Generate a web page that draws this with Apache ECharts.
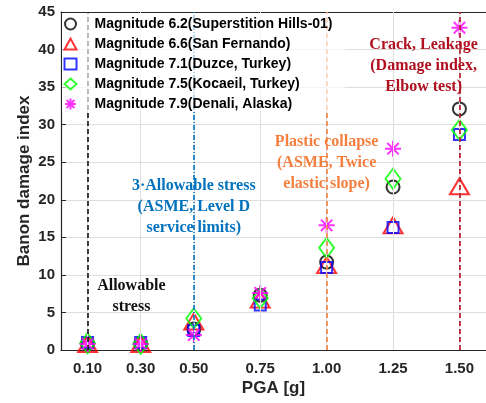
<!DOCTYPE html>
<html><head><meta charset="utf-8">
<script src="https://cdn.jsdelivr.net/npm/echarts@6/dist/echarts.min.js"></script>
<style>html,body{margin:0;padding:0;background:#fff}#c{width:486px;height:403px}</style>
</head><body><div id="c"></div>
<script>
const pga = [0.10, 0.30, 0.50, 0.75, 1.00, 1.25, 1.50];
const yTicks = [0, 5, 10, 15, 20, 25, 30, 35, 40, 45];
const names = [
  'Magnitude 6.2(Superstition Hills-01)',
  'Magnitude 6.6(San Fernando)',
  'Magnitude 7.1(Duzce, Turkey)',
  'Magnitude 7.5(Kocaeil, Turkey)',
  'Magnitude 7.9(Denali, Alaska)'
];
const m62 = [0.9, 0.9, 2.8, 7.3, 11.7, 21.7, 32.1];
const m66 = [0.8, 0.8, 3.8, 6.7, 11.3, 16.6, 21.8];
const m71 = [1.0, 1.0, 2.6, 6.0, 11.0, 16.3, 28.7];
const m75 = [0.9, 0.8, 4.2, 6.9, 13.6, 22.8, 29.3];
const m79 = [0.8, 0.8, 2.0, 7.6, 16.6, 26.8, 42.9];
const thresholds = [0.10, 0.50, 1.00, 1.50];
const notes = [
  {x: 0.265, y: 7.2, text: 'Allowable\nstress'},
  {x: 0.50, y: 19.0, text: '3·Allowable stress\n(ASME, Level D\nservice limits)'},
  {x: 1.00, y: 24.9, text: 'Plastic collapse\n(ASME, Twice\nelastic slope)'},
  {x: 1.365, y: 37.8, text: 'Crack, Leakage\n(Damage index,\nElbow test)'}
];
const lineColors = ['#111111', '#0072BD', '#F47F3F', '#B01020'];

const chart = echarts.init(document.getElementById('c'));
const star = 'path://M8,0L8,16M0,8L16,8M2.3,2.3L13.7,13.7M2.3,13.7L13.7,2.3';
function sc(name, data, symbol, size, color) {
  return {
    name: name, type: 'scatter', z: 3,
    data: pga.map((x, i) => [x, data[i]]),
    symbol: symbol, symbolSize: size,
    itemStyle: {color: 'none', borderColor: color, borderWidth: 2},
    emphasis: {disabled: true}
  };
}
const axisFont = {fontFamily: 'Liberation Sans', fontWeight: 'bold', fontSize: 15, color: '#262626'};
chart.setOption({
  animation: false,
  grid: {left: 61, top: 12, bottom: 53, width: 431, containLabel: false},
  xAxis: [{
    type: 'value', min: 0, max: 1.6,
    name: 'PGA [g]', nameLocation: 'middle', nameGap: 30, nameMoveOverlap: false,
    nameTextStyle: {fontFamily: 'Liberation Sans', fontWeight: 'bold', fontSize: 17, color: '#262626'},
    axisLine: {show: true, lineStyle: {color: '#262626', width: 1.2}},
    axisTick: {show: true, inside: true, length: 5, customValues: pga, lineStyle: {color: '#262626'}},
    axisLabel: Object.assign({customValues: pga, margin: 11, formatter: v => v.toFixed(2)}, axisFont),
    splitLine: {show: false}
  }, {
    type: 'value', min: 0, max: 1.6, position: 'top',
    axisLine: {show: true, lineStyle: {color: '#262626', width: 1.2}},
    axisTick: {show: true, inside: true, length: 5, customValues: pga, lineStyle: {color: '#262626'}},
    axisLabel: {show: false}, splitLine: {show: false}
  }],
  yAxis: {
    type: 'value', min: 0, max: 45, interval: 5,
    name: 'Banon damage index', nameLocation: 'middle', nameGap: 28, nameRotate: 90, nameMoveOverlap: false,
    nameTextStyle: {fontFamily: 'Liberation Sans', fontWeight: 'bold', fontSize: 17, color: '#262626'},
    axisLine: {show: true, lineStyle: {color: '#262626', width: 1.2}},
    axisTick: {show: true, inside: true, length: 5, lineStyle: {color: '#262626'}},
    axisLabel: Object.assign({margin: 6}, axisFont),
    splitLine: {show: true, lineStyle: {color: '#dedede', width: 1}}
  },
  legend: {
    orient: 'vertical', left: 62, top: 16, padding: 0, z: 10,
    itemWidth: 12, itemHeight: 11, itemGap: 4,
    textStyle: {fontFamily: 'Liberation Sans', fontWeight: 'bold', fontSize: 14, color: '#000', padding: [0, 0, 0, 13]},
    data: names
  },
  graphic: [{
    type: 'rect', left: 62, top: 13, z: 8,
    shape: {width: 283, height: 98},
    style: {fill: 'rgba(255,255,255,0.65)'}
  }],
  series: [
    {
      type: 'scatter', data: [], z: 1, silent: true,
      markLine: {
        silent: true, symbol: 'none', label: {show: false},
        lineStyle: {color: '#dedede', width: 1, type: 'solid'},
        data: pga.map(v => ({xAxis: v}))
      }
    },
    {
      type: 'scatter', data: [], z: 2, silent: true,
      markLine: {
        silent: true, symbol: 'none', label: {show: false},
        data: thresholds.map((v, i) => ({xAxis: v, lineStyle: {color: lineColors[i], width: 1.6, type: i === 1 ? [5, 2, 1, 2] : [5, 3]}}))
      },
      markPoint: {
        silent: true, symbol: 'rect', symbolSize: 0,
        data: notes.map((n, i) => ({
          coord: [n.x, n.y],
          label: {
            show: true, position: 'inside', formatter: n.text,
            fontFamily: 'Liberation Serif', fontWeight: 'bold', fontSize: 16, lineHeight: 21,
            color: lineColors[i], align: 'center', verticalAlign: 'middle'
          }
        }))
      }
    },
    sc(names[0], m62, 'circle', 13, '#000000'),
    sc(names[1], m66, 'triangle', [19, 16], '#FF0000'),
    sc(names[2], m71, 'rect', 11, '#0000FF'),
    sc(names[3], m75, 'diamond', [15, 20], '#00FF00'),
    sc(names[4], m79, star, 16, '#FF00FF')
  ]
});
</script></body></html>
